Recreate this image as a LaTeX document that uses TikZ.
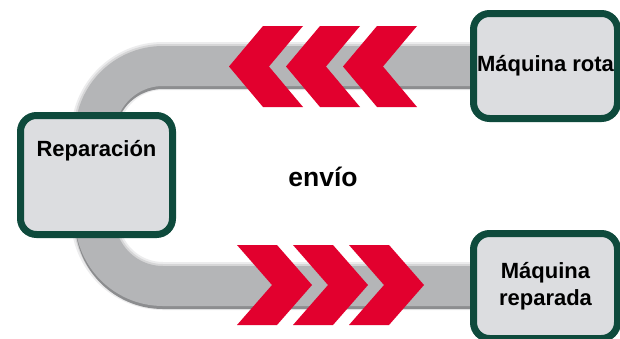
\documentclass[tikz,border=0pt]{standalone}
\usepackage{fontspec}
\setmainfont{Liberation Sans}
\usetikzlibrary{positioning,backgrounds}

\definecolor{boxedge}{HTML}{0E4A3C}
\definecolor{boxfill}{HTML}{DCDDE0}
\definecolor{bandgray}{HTML}{B4B5B7}
\definecolor{bandshade}{HTML}{8C8D8F}
\definecolor{chevred}{HTML}{E2002E}

\tikzset{
  stage/.style={draw=boxedge, fill=boxfill, line width=7pt, rounded corners=16pt,
    inner sep=0pt, minimum width=144pt, minimum height=105pt, align=center,
    font=\bfseries\fontsize{22}{27}\selectfont},
  band/.style={line width=40pt, draw=bandgray, rounded corners=68pt},
  chev/.style={fill=chevred},
}

\begin{document}
\begin{tikzpicture}[x=1pt,y=-1pt]
  \useasboundingbox (0,0) rectangle (620,338);

  \node[stage] (rota) at (545.5,66) {Máquina rota};
  \node[stage] (fixed) at (545.5,286) {Máquina\\reparada};
  \node[stage, minimum width=152pt, minimum height=119pt] (rep) at (96.5,175) {};
  \node[font=\bfseries\fontsize{22}{27}\selectfont, anchor=base] (reptext)
    at ([yshift=-44.5pt]rep.north) {Reparación};
  \node[font=\bfseries\fontsize{26.5}{30}\selectfont, anchor=base] (envio)
    at (323,186) {envío};

  % gray track behind the boxes
  \begin{scope}[on background layer]
    \fill[white] (0,0) rectangle (620,338);
    \draw[band, line width=48pt, draw=bandgray!25] (rota.west) -- (95,66) -- (95,286) -- (fixed.west);
    \draw[band, line width=44pt, draw=bandgray!55] (rota.west) -- (95,66) -- (95,286) -- (fixed.west);
    \draw[band, draw=bandshade] ([yshift=-3pt]rota.west) -- (95,69) -- (95,289) -- ([yshift=-3pt]fixed.west);
    \draw[band] (rota.west) -- (95,66) -- (95,286) -- (fixed.west);
  \end{scope}

  % chevrons, top row to the left, bottom row to the right
  \foreach \t in {229,286,343}
    \fill[chev] (\t,66.5) -- (\t+34,26) -- (\t+74,26) -- (\t+40,66.5)
      -- (\t+74,107) -- (\t+34,107) -- cycle;
  \foreach \a in {237,293,349}
    \fill[chev] (\a,245) -- (\a+40,245) -- (\a+75,285) -- (\a+40,325)
      -- (\a,325) -- (\a+35,285) -- cycle;

\end{tikzpicture}
\end{document}
